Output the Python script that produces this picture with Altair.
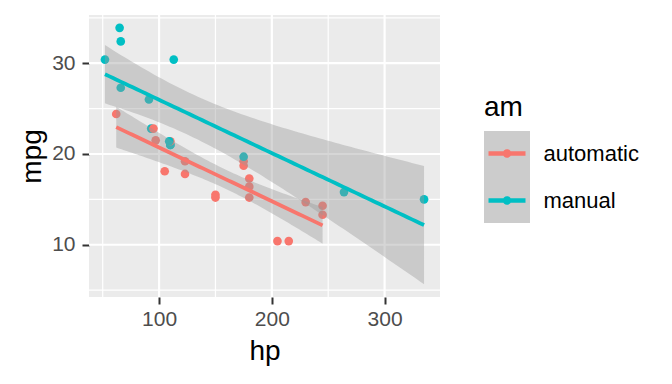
import altair as alt
import numpy as np
import pandas as pd

# mtcars: hp, mpg, am
hp = [110, 110, 93, 110, 175, 105, 245, 62, 95, 123, 123, 180, 180, 180, 205, 215,
      230, 66, 52, 65, 97, 150, 150, 245, 175, 66, 91, 113, 264, 175, 335, 109]
mpg = [21.0, 21.0, 22.8, 21.4, 18.7, 18.1, 14.3, 24.4, 22.8, 19.2, 17.8, 16.4, 17.3,
       15.2, 10.4, 10.4, 14.7, 32.4, 30.4, 33.9, 21.5, 15.5, 15.2, 13.3, 19.2, 27.3,
       26.0, 30.4, 15.8, 19.7, 15.0, 21.4]
am = ["manual", "manual", "manual", "automatic", "automatic", "automatic", "automatic",
      "automatic", "automatic", "automatic", "automatic", "automatic", "automatic",
      "automatic", "automatic", "automatic", "automatic", "manual", "manual", "manual",
      "automatic", "automatic", "automatic", "automatic", "automatic", "manual",
      "manual", "manual", "manual", "manual", "manual", "manual"]
groups = ["automatic", "manual"]
colors = ["#F8766D", "#00BFC4"]
t975 = {"automatic": 2.109816, "manual": 2.200985}  # t quantiles, df = n - 2

x_major = [100, 200, 300]
x_minor = [50, 150, 250]
y_major = [10, 20, 30]
y_minor = [5, 15, 25, 35]

pts = pd.DataFrame({"hp": hp, "mpg": mpg, "am": am})

# linear model fit with 95% confidence band per group (as geom_smooth(method="lm"))
rows = []
for g in groups:
    d = pts[pts.am == g]
    x = d.hp.to_numpy(float)
    y = d.mpg.to_numpy(float)
    n = len(x)
    xm, ym = x.mean(), y.mean()
    sxx = ((x - xm) ** 2).sum()
    b = ((x - xm) * (y - ym)).sum() / sxx
    a = ym - b * xm
    s = np.sqrt(((y - a - b * x) ** 2).sum() / (n - 2))
    xs = np.linspace(x.min(), x.max(), 80)
    fit = a + b * xs
    se = s * np.sqrt(1 / n + (xs - xm) ** 2 / sxx)
    for xi, fi, si in zip(xs, fit, se):
        rows.append({"hp": xi, "fit": fi, "lo": fi - t975[g] * si,
                     "hi": fi + t975[g] * si, "am": g})
sm = pd.DataFrame(rows)

xlo, xhi = min(hp), max(hp)
ylo = min(min(mpg), sm.lo.min())
yhi = max(max(mpg), sm.hi.max())
xd = [xlo - 0.05 * (xhi - xlo), xhi + 0.05 * (xhi - xlo)]
yd = [ylo - 0.05 * (yhi - ylo), yhi + 0.05 * (yhi - ylo)]

FONT = "Liberation Sans"
xscale = alt.Scale(domain=xd, nice=False, zero=False)
yscale = alt.Scale(domain=yd, nice=False, zero=False)
cscale = alt.Scale(domain=groups, range=colors)

xaxis = alt.Axis(values=x_major, grid=False, domain=False, tickSize=7, tickWidth=2,
                 tickColor="#333333", labelFontSize=21, labelColor="#4D4D4D",
                 labelPadding=4, labelFont=FONT, title="hp", titleFontSize=28,
                 titleFontWeight="normal", titleColor="black", titleFont=FONT,
                 titlePadding=8)
yaxis = alt.Axis(values=y_major, grid=False, domain=False, tickSize=7, tickWidth=2,
                 tickColor="#333333", labelFontSize=21, labelColor="#4D4D4D",
                 labelPadding=7, labelFont=FONT, title="mpg", titleFontSize=28,
                 titleFontWeight="normal", titleColor="black", titleFont=FONT,
                 titlePadding=5)

sym = ("M-1,-0.12 L1,-0.12 L1,0.12 L-1,0.12 Z "
       "M0.23,0 A0.23,0.23 0 1,1 -0.23,0 A0.23,0.23 0 1,1 0.23,0 Z")
legend = alt.Legend(
    title="am", orient="none", legendX=395, legendY=79, padding=0,
    titleFontSize=28, titleFont=FONT, titleFontWeight="normal",
    titleColor="black", titlePadding=13,
    labelFontSize=22, labelFont=FONT, labelColor="black", labelOffset=18,
    symbolType=sym, symbolSize=1369, symbolOffset=4.5, symbolStrokeWidth=0,
    symbolOpacity=1, rowPadding=17)
color = alt.Color("am:N", scale=cscale, legend=legend)

gx_minor = alt.Chart(pd.DataFrame({"v": x_minor})).mark_rule(
    color="white", strokeWidth=1.2).encode(x=alt.X("v:Q", scale=xscale, axis=xaxis))
gx_major = alt.Chart(pd.DataFrame({"v": x_major})).mark_rule(
    color="white", strokeWidth=2.2).encode(x=alt.X("v:Q", scale=xscale))
gy_minor = alt.Chart(pd.DataFrame({"v": y_minor})).mark_rule(
    color="white", strokeWidth=1.2).encode(y=alt.Y("v:Q", scale=yscale, axis=yaxis))
gy_major = alt.Chart(pd.DataFrame({"v": y_major})).mark_rule(
    color="white", strokeWidth=2.2).encode(y=alt.Y("v:Q", scale=yscale))

points = alt.Chart(pts).mark_circle(size=75, opacity=1).encode(
    x=alt.X("hp:Q", scale=xscale),
    y=alt.Y("mpg:Q", scale=yscale),
    color=color,
)

band = alt.Chart(sm).mark_area(color="#999999", opacity=0.4).encode(
    x=alt.X("hp:Q", scale=xscale),
    y=alt.Y("lo:Q", scale=yscale),
    y2="hi:Q",
    detail="am:N",
)

keybg = alt.Chart(pd.DataFrame({"k": [0]})).mark_rect(color="#CCCCCC").encode(
    x=alt.value(395), x2=alt.value(441), y=alt.value(116), y2=alt.value(208))

line = alt.Chart(sm).mark_line(strokeWidth=3.8).encode(
    x=alt.X("hp:Q", scale=xscale),
    y=alt.Y("fit:Q", scale=yscale),
    color=color,
)

chart = alt.layer(gx_minor, gx_major, gy_minor, gy_major, points, band, line, keybg).properties(
    width=351, height=282,
    autosize=alt.AutoSizeParams(type="none"),
    padding={"left": 81, "top": 7, "right": 224, "bottom": 79},
    background="white",
).configure_view(fill="#EBEBEB", stroke=None)

chart.save("out.html", embed_options={"renderer": "svg", "actions": False})
